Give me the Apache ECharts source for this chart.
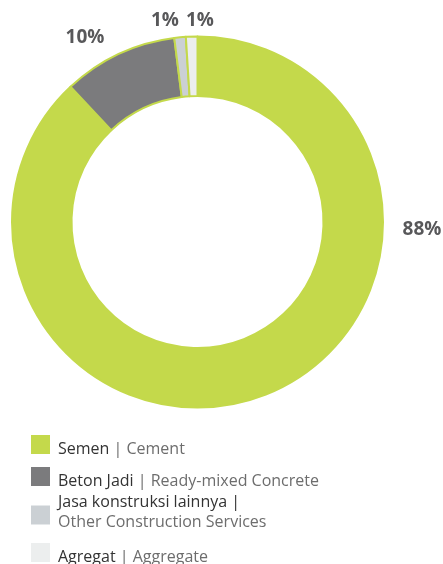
<!DOCTYPE html>
<html><head><meta charset="utf-8">
<script src="https://cdn.jsdelivr.net/npm/echarts@6/dist/echarts.min.js"></script>
<style>html,body{margin:0;padding:0;background:#fff}#c{width:443px;height:564px}</style>
</head><body><div id="c"></div>
<script>
var namesId = ['Semen', 'Beton Jadi', 'Jasa konstruksi lainnya', 'Agregat'];
var namesEn = ['Cement', 'Ready-mixed Concrete', 'Other Construction Services', 'Aggregate'];
var values = [88, 10, 1, 1];
var colors = ['#c4d94b', '#7b7b7d', '#cbd0d4', '#eceeee'];

var labelPos = [[422, 230], [85, 38], [165, 21], [200, 21]];
var legendTops = [435, 467, 494, 543];

var data = values.map(function (v, i) {
  return { name: namesId[i], value: v, itemStyle: { color: colors[i] } };
});

function fmt(n) {
  var i = namesId.indexOf(n);
  if (i === 2) return '{a|' + n + ' |}\n{b|' + namesEn[i] + '}';
  return '{a|' + n + ' }{b|| ' + namesEn[i] + '}';
}

var legends = namesId.map(function (n, i) {
  var multi = (i === 2);
  var pad = multi ? [0, 0, 6, 3] : [10, 0, 0, 3];
  return {
    orient: 'vertical',
    left: 31, top: legendTops[i],
    padding: 0,
    itemWidth: 19, itemHeight: 19,
    icon: 'rect',
    selectedMode: false,
    data: [n],
    itemStyle: { borderWidth: 0 },
    formatter: fmt,
    textStyle: {
      fontFamily: 'Open Sans', fontSize: 16,
      padding: pad,
      rich: {
        a: { color: '#333', fontSize: 16, fontFamily: 'Open Sans', lineHeight: 20 },
        b: { color: '#6d6d6d', fontSize: 16, fontFamily: 'Open Sans', lineHeight: 20 }
      }
    }
  };
});

var chart = echarts.init(document.getElementById('c'), null, { renderer: 'canvas' });
chart.setOption({
  animation: false,
  legend: legends,
  series: [{
    type: 'pie',
    center: [197.5, 222],
    radius: [126, 185.5],
    startAngle: 90,
    clockwise: true,
    data: data,
    itemStyle: { borderColor: '#c4d94b', borderWidth: 2 },
    label: {
      show: true,
      formatter: '{c}%',
      color: '#58585a',
      fontFamily: 'Open Sans',
      fontWeight: 'bold',
      fontSize: 19,
      overflow: 'none'
    },
    labelLine: { show: false },
    labelLayout: function (p) {
      var xy = labelPos[p.dataIndex];
      return { x: xy[0], y: xy[1], width: 80, align: 'center', verticalAlign: 'middle' };
    },
    emphasis: { disabled: true }
  }]
});
</script></body></html>
